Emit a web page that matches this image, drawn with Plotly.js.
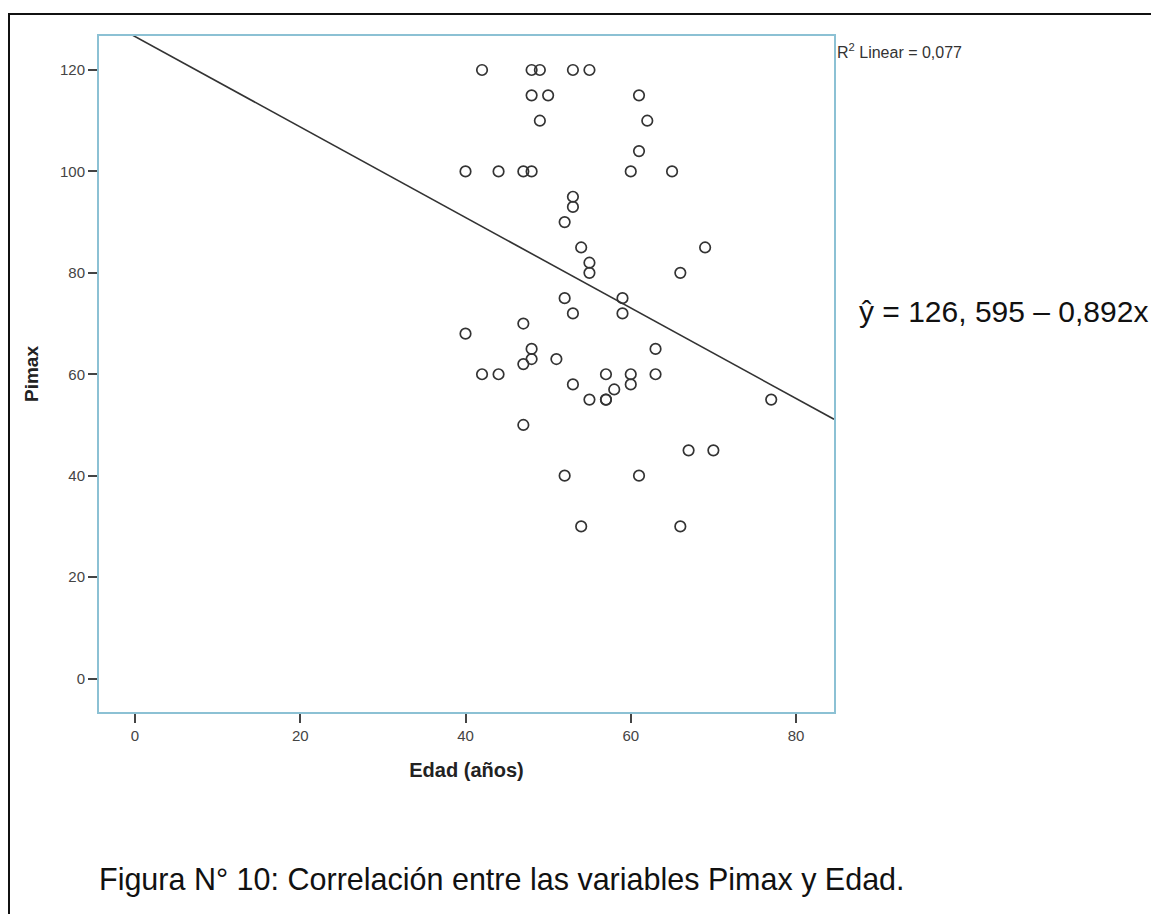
<!DOCTYPE html>
<html>
<head>
<meta charset="utf-8">
<script src="https://cdn.plot.ly/plotly-3.0.1.min.js"></script>
<style>
  html, body { margin: 0; padding: 0; background: #fff; }
  #wrap { position: relative; width: 1151px; height: 914px; overflow: hidden; }
  #frame { position: absolute; left: 8px; top: 13px; width: 1200px; height: 1000px;
           border-top: 2px solid #111; border-left: 2px solid #111; box-sizing: border-box; pointer-events: none; }
  #chart { position: absolute; left: 0; top: 0; width: 1151px; height: 914px; }
</style>
</head>
<body>
<div id="wrap">
  <div id="chart"></div>
  <div id="frame"></div>
</div>
<script>
// Edad (años)
const edad = [42, 48, 49, 53, 55,
              48, 50, 61,
              49, 62,
              61,
              40, 44, 47, 48, 60, 65,
              53, 53, 52,
              54, 69,
              55, 55, 66,
              52, 59,
              53, 59,
              47, 40,
              48, 63, 48, 47, 51,
              42, 44, 57, 60, 63,
              53, 60, 58,
              55, 57, 57, 77,
              47, 67, 70,
              52, 61,
              54, 66];
// Pimax
const pimax = [120, 120, 120, 120, 120,
               115, 115, 115,
               110, 110,
               104,
               100, 100, 100, 100, 100, 100,
               95, 93, 90,
               85, 85,
               82, 80, 80,
               75, 75,
               72, 72,
               70, 68,
               65, 65, 63, 62, 63,
               60, 60, 60, 60, 60,
               58, 58, 57,
               55, 55, 55, 55,
               50, 45, 45,
               40, 40,
               30, 30];

const intercept = 126.595;
const slope = -0.892;
const r2Text = "R<sup>2</sup> Linear = 0,077";
const eqText = "ŷ = 126, 595 – 0,892x";
const caption = "Figura N° 10: Correlación entre las variables Pimax y Edad.";
const xTicks = [0, 20, 40, 60, 80];
const yTicks = [0, 20, 40, 60, 80, 100, 120];
const xRange = [-4.36, 84.6];
const yRange = [-6.6, 126.7];

const fitX = [xRange[0], xRange[1]];
const fitY = fitX.map(v => intercept + slope * v);

const FONT = "Liberation Sans, Arial, sans-serif";

const traces = [
  {
    x: edad, y: pimax, type: 'scatter', mode: 'markers',
    marker: { symbol: 'circle-open', size: 10.5, color: '#333', line: { color: '#333', width: 1.7 } },
    hoverinfo: 'x+y', showlegend: false, cliponaxis: false
  },
  {
    x: fitX, y: fitY, type: 'scatter', mode: 'lines',
    line: { color: '#333', width: 1.6 }, showlegend: false, hoverinfo: 'skip'
  }
];

const layout = {
  width: 1151, height: 914,
  paper_bgcolor: '#fff', plot_bgcolor: '#fff',
  margin: { l: 99, r: 317, t: 36, b: 202 },
  showlegend: false,
  font: { family: FONT, color: '#333' },
  xaxis: {
    range: xRange, tickvals: xTicks, ticktext: xTicks.map(String),
    showgrid: false, zeroline: false,
    showline: true, mirror: true, linecolor: '#8cc1d4', linewidth: 2,
    ticks: 'outside', ticklen: 9, tickwidth: 2, tickcolor: '#444',
    tickfont: { family: FONT, size: 15, color: '#444' },
    title: { text: '<b>Edad (años)</b>', font: { family: FONT, size: 20, color: '#222' }, standoff: 20 },
    automargin: false
  },
  yaxis: {
    range: yRange, tickvals: yTicks, ticktext: yTicks.map(String),
    showgrid: false, zeroline: false,
    showline: true, mirror: true, linecolor: '#8cc1d4', linewidth: 2,
    ticks: 'outside', ticklen: 9, tickwidth: 2, tickcolor: '#444',
    tickfont: { family: FONT, size: 15, color: '#444' },
    title: { text: '<b>Pimax</b>', font: { family: FONT, size: 19, color: '#222' }, standoff: 16 },
    automargin: false
  },
  annotations: [
    { text: r2Text, xref: 'paper', yref: 'paper', x: 1.0015, y: 0.978,
      xanchor: 'left', yanchor: 'middle', showarrow: false,
      font: { family: FONT, size: 16, color: '#333' } },
    { text: eqText, xref: 'paper', yref: 'paper', x: 1.031, y: 0.593,
      xanchor: 'left', yanchor: 'middle', showarrow: false,
      font: { family: FONT, size: 30, color: '#111' } },
    { text: caption, xref: 'paper', yref: 'paper', x: -0.0027, y: -0.248,
      xanchor: 'left', yanchor: 'middle', showarrow: false,
      font: { family: FONT, size: 30.5, color: '#111' } }
  ]
};

Plotly.newPlot('chart', traces, layout, { staticPlot: true, displayModeBar: false });
</script>
</body>
</html>
